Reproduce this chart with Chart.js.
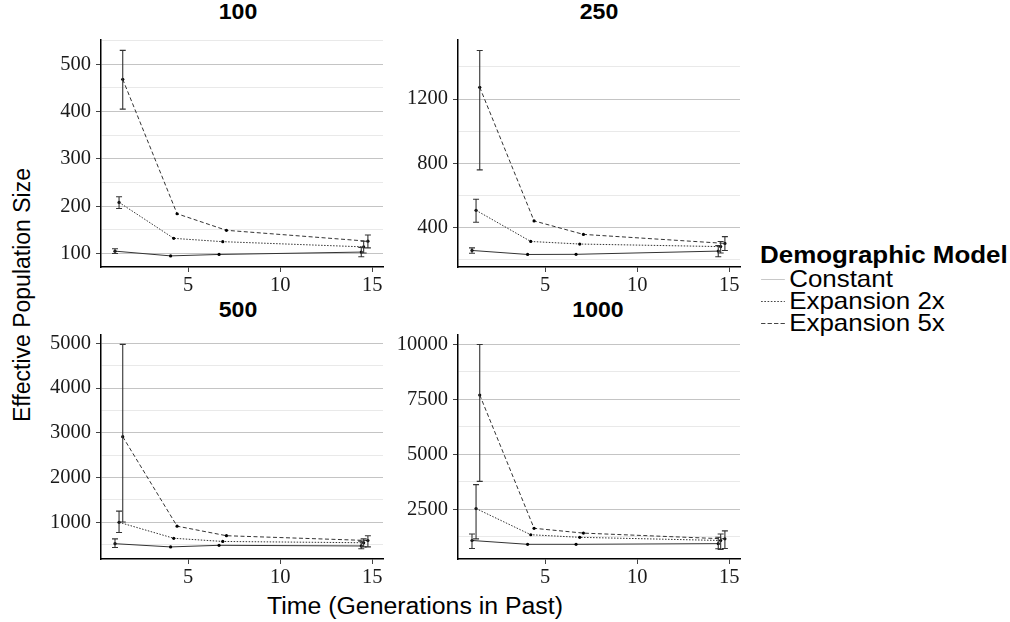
<!DOCTYPE html>
<html>
<head>
<meta charset="utf-8">
<script src="https://cdn.jsdelivr.net/npm/chart.js@4.4.1/dist/chart.umd.min.js"></script>
<style>
html,body{margin:0;padding:0;background:#fff;}
body{width:1010px;height:622px;position:relative;overflow:hidden;font-family:"Liberation Sans",Arial,sans-serif;color:#000;}
canvas{position:absolute;}
.ptitle{position:absolute;font-weight:bold;font-size:22px;transform:translate(-50%,-50%) scaleX(1.05);white-space:nowrap;}
.axtitle{position:absolute;font-size:23px;white-space:nowrap;}
#ytitle{left:22px;top:295px;transform:translate(-50%,-50%) rotate(-90deg);}
#xtitle{left:415px;top:606px;transform:translate(-50%,-50%) scaleX(1.08);}
#legend{position:absolute;left:760px;top:242px;transform:scaleX(1.08);transform-origin:0 0;}
#legend .lt{font-weight:bold;font-size:24px;line-height:26px;white-space:nowrap;}
#legend .li{position:relative;height:22px;white-space:nowrap;}
#legend .li svg{position:absolute;left:1px;top:0;}
#legend .li span{position:absolute;left:27px;top:50%;transform:translateY(-50%);font-size:24px;}
</style>
</head>
<body>
<div class="ptitle" style="left:238px;top:12px;">100</div>
<div class="ptitle" style="left:599px;top:12px;">250</div>
<div class="ptitle" style="left:238px;top:310px;">500</div>
<div class="ptitle" style="left:598px;top:310px;">1000</div>
<div class="axtitle" id="ytitle">Effective Population Size</div>
<div class="axtitle" id="xtitle">Time (Generations in Past)</div>
<div id="legend">
  <div class="lt">Demographic Model</div>
  <div class="li"><svg width="24" height="22"><line x1="0" y1="11.5" x2="22" y2="11.5" stroke="#c8c8c8" stroke-width="1"/></svg><span>Constant</span></div>
  <div class="li"><svg width="24" height="22"><line x1="0" y1="11.5" x2="22" y2="11.5" stroke="#444" stroke-width="1" stroke-dasharray="1.5,1.5"/></svg><span>Expansion 2x</span></div>
  <div class="li"><svg width="24" height="22"><line x1="0" y1="11.5" x2="22" y2="11.5" stroke="#444" stroke-width="1" stroke-dasharray="4,2"/></svg><span>Expansion 5x</span></div>
</div>
<canvas id="c100"></canvas>
<canvas id="c250"></canvas>
<canvas id="c500"></canvas>
<canvas id="c1000"></canvas>
<script>
// ---- data ----
const seriesNames = ["Constant", "Expansion 2x", "Expansion 5x"];
const timeConstant = [1.03, 4.05, 6.68, 14.40];
const time2x = [1.25, 4.22, 6.88, 14.53];
const time5x = [1.45, 4.40, 7.08, 14.76];
const xTickValues = [5, 10, 15];

// panel 100
const ne100Constant = [105, 95, 98, 103];
const ne100ConstantLo = [100, null, null, 93];
const ne100ConstantHi = [110, null, null, 113];
const ne100Exp2 = [208, 132, 125, 114];
const ne100Exp2Lo = [195, null, null, 101];
const ne100Exp2Hi = [220, null, null, 126];
const ne100Exp5 = [468, 184, 149, 126];
const ne100Exp5Lo = [405, null, null, 112];
const ne100Exp5Hi = [529, null, null, 139];
const yMajor100 = [100, 200, 300, 400, 500];
const yMinor100 = [150, 250, 350, 450, 550];

// panel 250
const ne250Constant = [257, 232, 233, 253];
const ne250ConstantLo = [240, null, null, 218];
const ne250ConstantHi = [273, null, null, 287];
const ne250Exp2 = [507, 313, 297, 281];
const ne250Exp2Lo = [433, null, null, 241];
const ne250Exp2Hi = [576, null, null, 313];
const ne250Exp5 = [1273, 441, 357, 301];
const ne250Exp5Lo = [759, null, null, 257];
const ne250Exp5Hi = [1502, null, null, 343];
const yMajor250 = [400, 800, 1200];
const yMinor250 = [200, 600, 1000, 1400];

// panel 500
const ne500Constant = [522, 450, 486, 471];
const ne500ConstantLo = [437, null, null, 408];
const ne500ConstantHi = [629, null, null, 579];
const ne500Exp2 = [1000, 643, 572, 543];
const ne500Exp2Lo = [771, null, null, 450];
const ne500Exp2Hi = [1250, null, null, 629];
const ne500Exp5 = [2912, 914, 700, 593];
const ne500Exp5Lo = [1006, null, null, 450];
const ne500Exp5Hi = [4975, null, null, 700];
const yMajor500 = [1000, 2000, 3000, 4000, 5000];
const yMinor500 = [500, 1500, 2500, 3500, 4500];

// panel 1000
const ne1000Constant = [1071, 896, 896, 927];
const ne1000ConstantLo = [708, null, null, 693];
const ne1000ConstantHi = [1364, null, null, 1215];
const ne1000Exp2 = [2526, 1333, 1215, 1071];
const ne1000Exp2Lo = [1145, null, null, 664];
const ne1000Exp2Hi = [3619, null, null, 1364];
const ne1000Exp5 = [7701, 1626, 1407, 1145];
const ne1000Exp5Lo = [3767, null, null, 708];
const ne1000Exp5Hi = [10000, null, null, 1508];
const yMajor1000 = [2500, 5000, 7500, 10000];
const yMinor1000 = [1250, 3750, 6250, 8750];

// ---- error bar plugin ----
const errorBarPlugin = {
  id: 'errorBars',
  afterDatasetsDraw(chart) {
    const ctx = chart.ctx, xs = chart.scales.x, ys = chart.scales.y;
    chart.data.datasets.forEach(ds => {
      if (!ds.errLo) return;
      ctx.save();
      ctx.strokeStyle = '#333';
      ctx.lineWidth = 1.1;
      ctx.setLineDash([]);
      ds.data.forEach((p, i) => {
        const lo = ds.errLo[i], hi = ds.errHi[i];
        if (lo == null || hi == null) return;
        const x = xs.getPixelForValue(p.x);
        const y1 = ys.getPixelForValue(lo), y2 = ys.getPixelForValue(hi);
        ctx.beginPath();
        ctx.moveTo(x, y1); ctx.lineTo(x, y2);
        ctx.moveTo(x - 3, y1); ctx.lineTo(x + 3, y1);
        ctx.moveTo(x - 3, y2); ctx.lineTo(x + 3, y2);
        ctx.stroke();
      });
      ctx.restore();
    });
  }
};

const tickFont = {family: '"Liberation Serif", "Times New Roman", serif', size: 20.5};
const dashes = [[], [1.5, 1.5], [4, 2.5]];

function makePanel(id, rect, ys, los, his, yMin, yMax, majors, minors) {
  const padL = 70, padT = 8, padR = 14, padB = 35;
  const cv = document.getElementById(id);
  const w = rect.R - rect.L + padL + padR, h = rect.B - rect.T + padT + padB;
  cv.width = w; cv.height = h;
  cv.style.width = w + 'px'; cv.style.height = h + 'px';
  cv.style.left = (rect.L - padL) + 'px'; cv.style.top = (rect.T - padT) + 'px';
  const times = [timeConstant, time2x, time5x];
  const allTicks = majors.concat(minors).sort((a, b) => a - b);
  const isMajor = v => majors.indexOf(v) >= 0;
  new Chart(cv, {
    type: 'line',
    data: {
      datasets: seriesNames.map((name, k) => ({
        label: name,
        data: times[k].map((t, i) => ({x: t, y: ys[k][i]})),
        errLo: los[k], errHi: his[k],
        borderColor: '#333', borderWidth: 1, borderDash: dashes[k],
        pointRadius: 1.6, pointBackgroundColor: '#000', pointBorderWidth: 0,
        fill: false, tension: 0
      }))
    },
    options: {
      responsive: false, animation: false, devicePixelRatio: 1,
      layout: {padding: {left: 0, top: padT, right: padR, bottom: 0}},
      plugins: {legend: {display: false}, tooltip: {enabled: false}, title: {display: false}},
      scales: {
        x: {
          type: 'linear', min: 0.27, max: 15.58,
          afterBuildTicks(s) { s.ticks = xTickValues.map(v => ({value: v})); },
          afterFit(s) { s.height = padB; },
          grid: {drawOnChartArea: false, drawTicks: true, tickLength: 5, tickColor: '#444'},
          border: {display: true, color: '#000', width: 1.5},
          ticks: {font: tickFont, color: '#1a1a1a', padding: 1, maxRotation: 0, autoSkip: false}
        },
        y: {
          type: 'linear', min: yMin, max: yMax,
          afterBuildTicks(s) { s.ticks = allTicks.map(v => ({value: v})); },
          afterFit(s) { s.width = padL; },
          grid: {
            color: c => (c.tick && isMajor(c.tick.value)) ? '#c4c4c4' : '#e9e9e9',
            tickColor: c => (c.tick && isMajor(c.tick.value)) ? '#444' : 'rgba(0,0,0,0)',
            tickLength: 5, lineWidth: 1
          },
          border: {display: true, color: '#000', width: 1.5},
          ticks: {font: tickFont, color: '#1a1a1a', padding: 5, autoSkip: false,
                  callback: v => isMajor(v) ? String(v) : ''}
        }
      }
    },
    plugins: [errorBarPlugin]
  });
}

makePanel('c100', {L: 101, T: 30, R: 383, B: 267},
  [ne100Constant, ne100Exp2, ne100Exp5],
  [ne100ConstantLo, ne100Exp2Lo, ne100Exp5Lo],
  [ne100ConstantHi, ne100Exp2Hi, ne100Exp5Hi],
  71.5, 552.5, yMajor100, yMinor100);
makePanel('c250', {L: 458, T: 30, R: 740, B: 267},
  [ne250Constant, ne250Exp2, ne250Exp5],
  [ne250ConstantLo, ne250Exp2Lo, ne250Exp5Lo],
  [ne250ConstantHi, ne250Exp2Hi, ne250Exp5Hi],
  154, 1572, yMajor250, yMinor250);
makePanel('c500', {L: 101, T: 325, R: 383, B: 559},
  [ne500Constant, ne500Exp2, ne500Exp5],
  [ne500ConstantLo, ne500Exp2Lo, ne500Exp5Lo],
  [ne500ConstantHi, ne500Exp2Hi, ne500Exp5Hi],
  180, 5200, yMajor500, yMinor500);
makePanel('c1000', {L: 458, T: 325, R: 740, B: 559},
  [ne1000Constant, ne1000Exp2, ne1000Exp5],
  [ne1000ConstantLo, ne1000Exp2Lo, ne1000Exp5Lo],
  [ne1000ConstantHi, ne1000Exp2Hi, ne1000Exp5Hi],
  227, 10468, yMajor1000, yMinor1000);
</script>
</body>
</html>
